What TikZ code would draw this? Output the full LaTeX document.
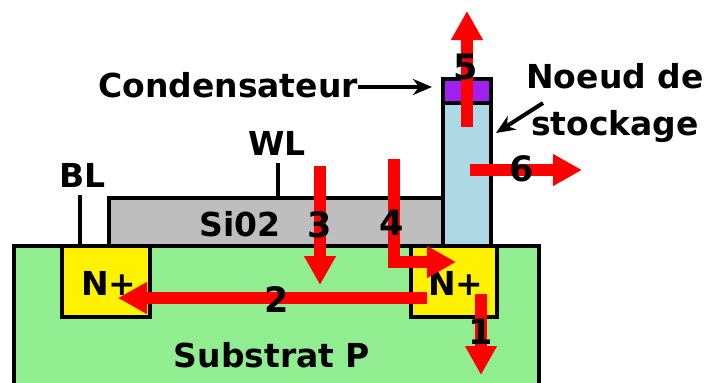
\documentclass[tikz,border=0pt]{standalone}
\usepackage{fontspec}
\setmainfont{DejaVu Sans}
\usetikzlibrary{arrows.meta, positioning}
\definecolor{substratgreen}{HTML}{90EE90}
\definecolor{oxidegray}{HTML}{BEBEBE}
\definecolor{nodeblue}{HTML}{ADD8E6}
\definecolor{capapurple}{HTML}{A020F0}
\tikzset{
    region/.style={draw=black, line width=4pt, fill=#1, miter limit=10},
    wire/.style={black, line width=4pt},
    flow/.style={red, line width=11.5pt, -{Triangle[length=29pt, width=30pt]}},
    pointer/.style={black, line width=4pt, -{Stealth[length=19pt, width=16pt, inset=6pt]}},
    label/.style={font=\fontsize{33}{38}\selectfont\bfseries, text=black, inner sep=0pt},
    number/.style={font=\fontsize{35}{40}\selectfont\bfseries, text=black, inner sep=0pt},
}
\begin{document}
\begin{tikzpicture}[x=1pt, y=-1pt]
    \useasboundingbox (0,0) rectangle (705,383);

    % Substrate and doped wells
    \draw[region=substratgreen] (14,246) rectangle (539,386);
    \draw[region=oxidegray] (109,246) rectangle (443,198);
    \draw[region=yellow] (62,246) rectangle (150,317);
    \draw[region=yellow] (411,246) rectangle (497,317);

    % Storage column
    \draw[region=nodeblue] (443,103) rectangle (491,246);
    \draw[region=capapurple] (443,79) rectangle (491,103);

    % Texts
    \node[label] (bl) at (82.5,175) {BL};
    \node[label] (wl) at (277,143) {WL};
    \node[label] (sio) at (240,224) {Si02};
    \node[label] (nleft) at (109,283) {N+};
    \node[label] (nright) at (456,283) {N+};
    \node[label] (substrat) at (272,355) {Substrat P};
    \node[label] (capa) at (228,85) {Condensateur};
    \node[label] (noeud) at (615,76) {Noeud de};
    \node[label] (stockage) at (615,127) {stockage};

    % Free ends of the wires and pointers
    \coordinate (blfoot) at (80,246);
    \coordinate (wlfoot) at (277.5,198);
    \coordinate (capatip) at (432,87);
    \coordinate (noeudtail) at (543,103);
    \coordinate (noeudtip) at (496,133);

    \draw[wire] (80,195) -- (blfoot);
    \draw[wire] (277.5,163) -- (wlfoot);
    \draw[pointer] (capa.east |- capatip) -- (capatip);
    \draw[pointer] (noeudtail) -- (noeudtip);

    % ---- Leakage paths ----
    \coordinate (a1) at (481,294);
    \coordinate (b1) at (481,375);
    \coordinate (a2) at (427,298);
    \coordinate (b2) at (118,298);
    \coordinate (a3) at (320,166);
    \coordinate (b3) at (320,285);
    \coordinate (a4) at (394,159);
    \coordinate (c4) at (394,262);
    \coordinate (b4) at (456,262);
    \coordinate (a5) at (467,127);
    \coordinate (b5) at (467,11);
    \coordinate (a6) at (470,170);
    \coordinate (b6) at (582,170);

    \draw[flow] (a1) -- (b1);
    \draw[flow] (a2) -- (b2);
    \draw[flow] (a3) -- (b3);
    \draw[flow] (a4) -- (c4) -- (b4);
    \draw[flow] (a5) -- (b5);
    \draw[flow] (a6) -- (b6);

    % ---- Numbers ----
    \node[number] (n1) at (481,332) {1};
    \node[number] (n2) at (277,300) {2};
    \node[number] (n3) at (320,225) {3};
    \node[number] (n4) at (392,223) {4};
    \node[number] (n5) at (466,67) {5};
    \node[number] (n6) at (522,169) {6};
\end{tikzpicture}
\end{document}
